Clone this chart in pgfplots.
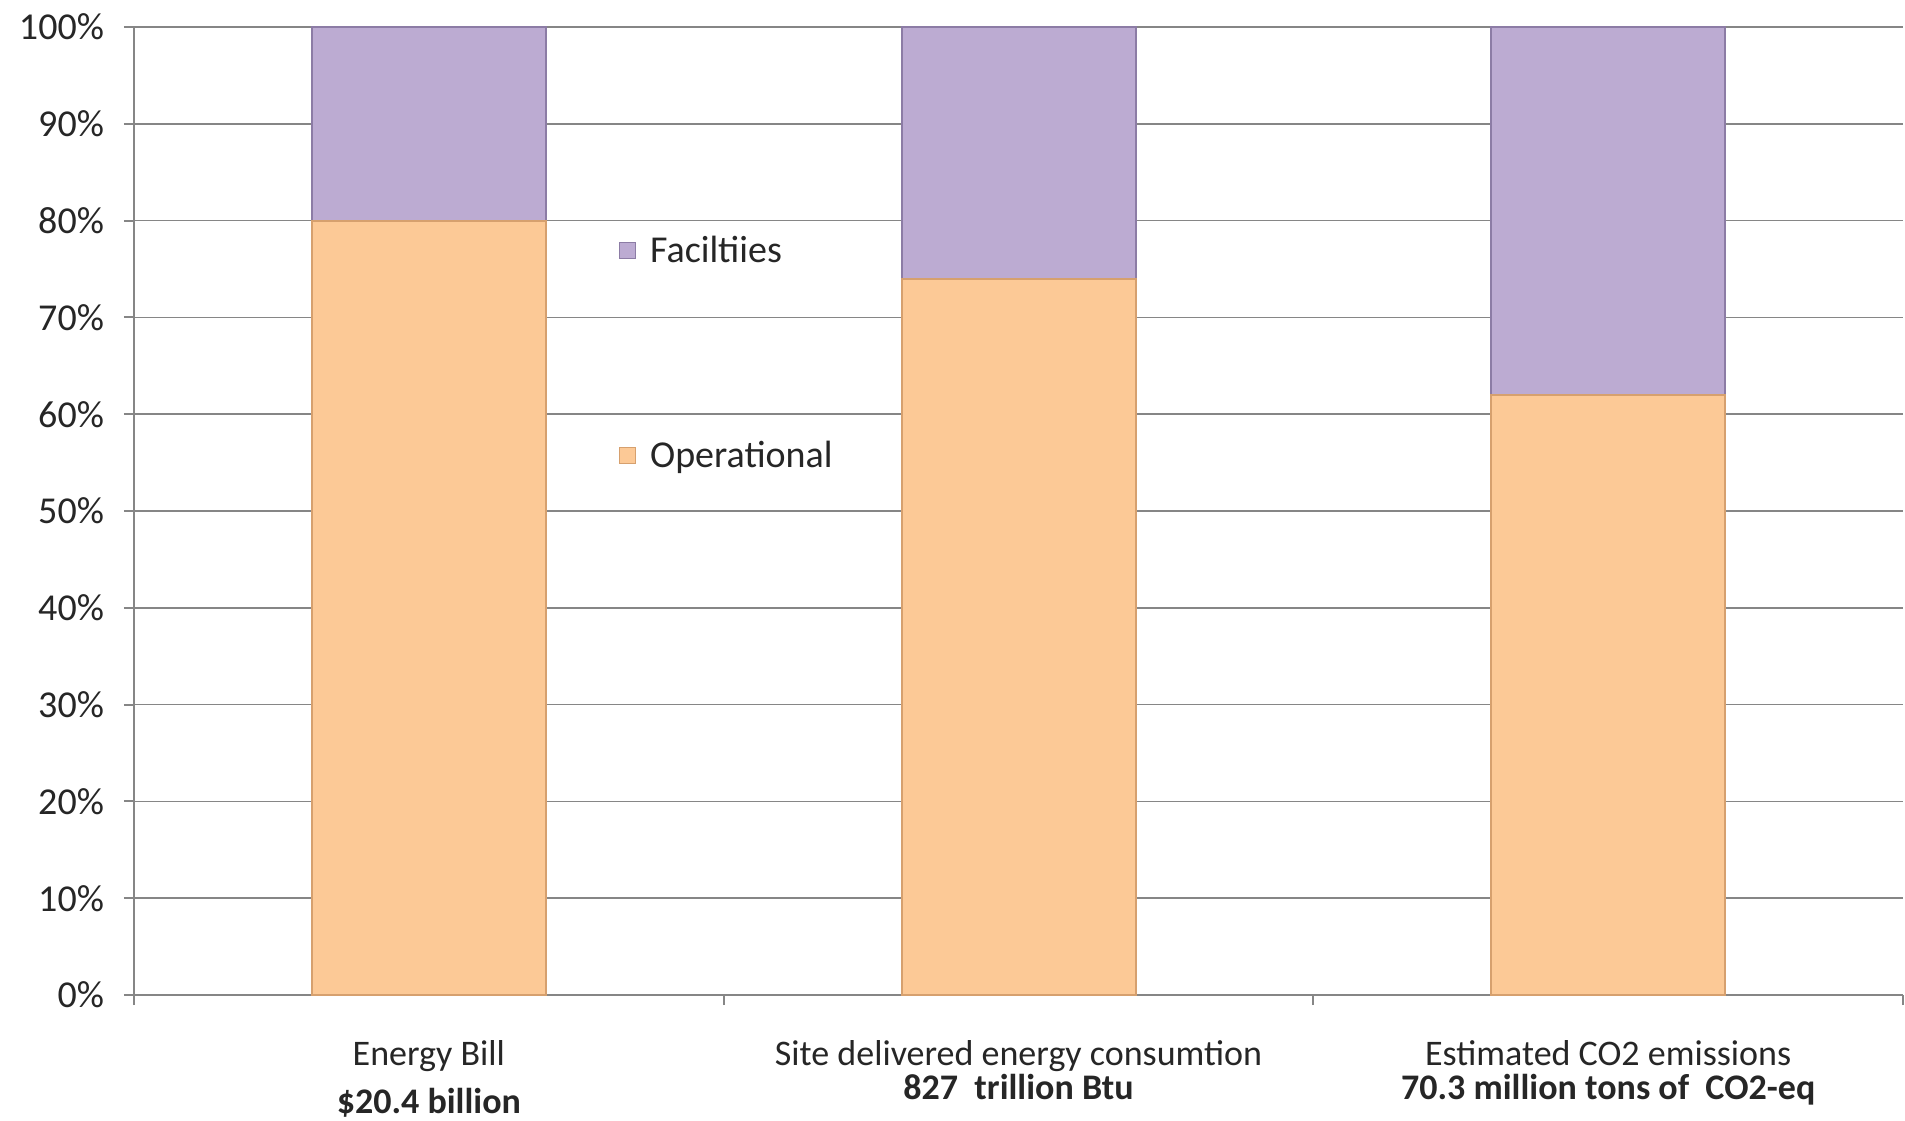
\documentclass[border=0pt]{standalone}
\usepackage{fontspec}
\setmainfont{Carlito}
\usepackage{pgfplots}
\pgfplotsset{compat=1.18}
\definecolor{oper}{RGB}{252,201,150}
\definecolor{operd}{RGB}{214,160,110}
\definecolor{faci}{RGB}{188,171,210}
\definecolor{facid}{RGB}{140,124,165}
\definecolor{gridc}{RGB}{134,134,134}
\begin{document}
\begin{tikzpicture}
\begin{axis}[
  name=ax,
  scale only axis,
  width=884.5pt, height=484pt,
  ybar stacked,
  bar width=117pt,
  xmin=0.5, xmax=3.5,
  ymin=0, ymax=100,
  axis x line*=bottom,
  axis y line*=left,
  axis line style={gridc, line width=1pt, -},
  xtick={1,2,3},
  major x tick style={draw=none},
  minor xtick={0.5,1.5,2.5,3.5},
  minor x tick style={gridc, line width=1pt},
  minor tick length=5pt,
  xticklabels={
    {Energy Bill\\[2.7pt]\textbf{\$20.4 billion}},
    {Site delivered energy consumtion\\[-4.6pt]\textbf{827\ \ trillion Btu}},
    {Estimated CO2 emissions\\[-4.6pt]\textbf{70.3 million tons of\ \ CO2-eq}}},
  xticklabel style={align=center, font=\fontsize{18}{21.6}\selectfont, text=black!85, yshift=-14pt},
  ytick={0,10,...,100},
  yticklabels={0\%,10\%,20\%,30\%,40\%,50\%,60\%,70\%,80\%,90\%,100\%},
  yticklabel style={font=\fontsize{19}{22.8}\selectfont, text=black!85, xshift=-6.5pt},
  y tick style={gridc, line width=1pt},
  tick align=outside,
  major tick length=5pt,
  ymajorgrids,
  grid style={gridc, line width=0.8pt},
  legend style={at={(0.274,0.789)}, anchor=north west, draw=none, fill=none,
    font=\fontsize{19}{22.8}\selectfont, text=black!85, row sep=84pt, inner sep=0pt,
    /tikz/every odd column/.append style={column sep=5pt}},
  legend cell align=left,
  reverse legend,
  legend image code/.code={\draw[#1, line width=0.5pt] (0pt,-4pt) rectangle (8pt,4pt);},
]
\addplot[fill=oper, draw=operd, line width=1pt] coordinates {(1,80) (2,74) (3,62)};
\addlegendentry{Operational}
\addplot[fill=faci, draw=facid, line width=1pt] coordinates {(1,20) (2,26) (3,38)};
\addlegendentry{Faciltiies}
\end{axis}
\pgfresetboundingbox
\path[use as bounding box] ([xshift=-67pt,yshift=-62.5pt]ax.south west) rectangle ([xshift=1pt,yshift=13.5pt]ax.north east);
\end{tikzpicture}
\end{document}
